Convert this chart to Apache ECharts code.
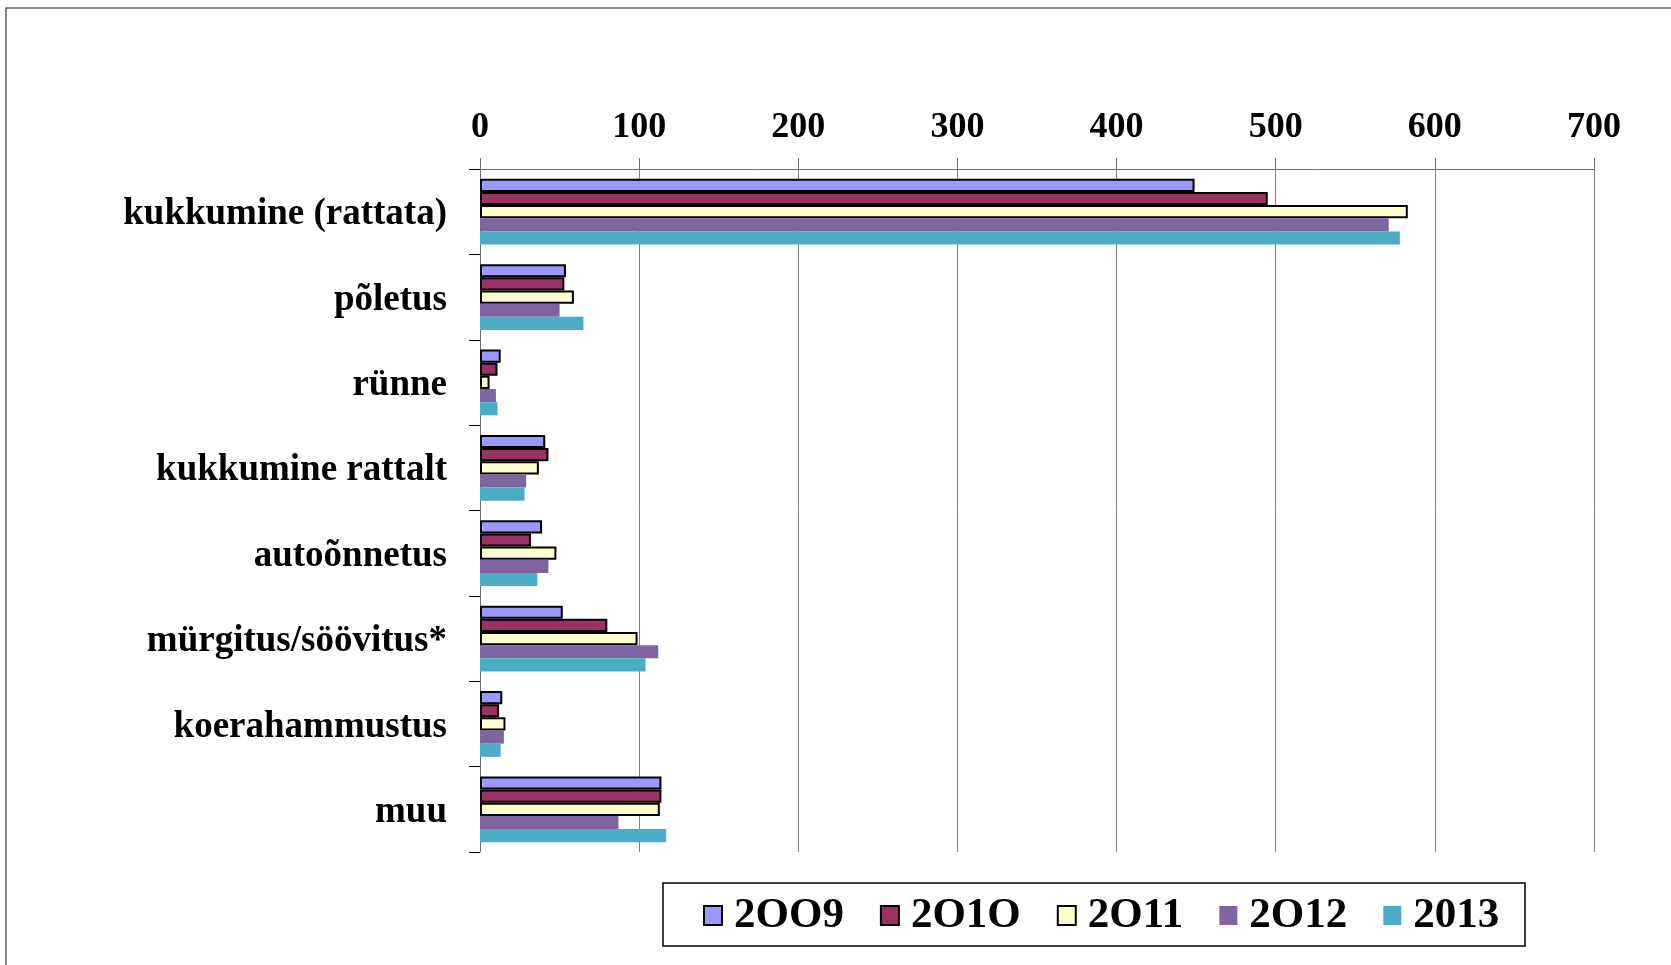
<!DOCTYPE html>
<html>
<head>
<meta charset="utf-8">
<script src="https://cdn.jsdelivr.net/npm/echarts@6/dist/echarts.min.js"></script>
<style>
  html, body { margin: 0; padding: 0; background: #ffffff; }
  #chart { width: 1671px; height: 965px; }
</style>
</head>
<body>
<div id="chart"></div>
<script>
// Injury causes, counts per year
const categories = [
  'kukkumine (rattata)',
  'põletus',
  'rünne',
  'kukkumine rattalt',
  'autoõnnetus',
  'mürgitus/söövitus*',
  'koerahammustus',
  'muu'
];
const years = ['2OO9', '2O1O', '2O11', '2O12', '2013'];
const values2009 = [449, 54, 13, 41, 39, 52, 14, 114];
const values2010 = [495, 53, 11, 43, 32, 80, 12, 114];
const values2011 = [583, 59, 6, 37, 48, 99, 16, 113];
const values2012 = [571, 50, 10, 29, 43, 112, 15, 87];
const values2013 = [578, 65, 11, 28, 36, 104, 13, 117];
const xTicks = [0, 100, 200, 300, 400, 500, 600, 700];

const seriesValues = [values2009, values2010, values2011, values2012, values2013];
const colors = ['#9999FF', '#993366', '#FFFFCC', '#8064A2', '#4BACC6'];
const bordered = [true, true, true, false, false];

const FONT = '"Liberation Serif", "Times New Roman", serif';

const chart = echarts.init(document.getElementById('chart'), null, { renderer: 'canvas' });

const series = years.map((name, i) => ({
  name: name,
  type: 'bar',
  data: seriesValues[i],
  barGap: '0%',
  barCategoryGap: '23%',
  itemStyle: {
    color: colors[i],
    borderColor: bordered[i] ? '#000000' : colors[i],
    borderWidth: bordered[i] ? 2 : 0
  },
  emphasis: { disabled: true },
  animation: false
}));

chart.setOption({
  backgroundColor: '#ffffff',
  animation: false,
  grid: { left: 480, right: 77, top: 169, bottom: 113, containLabel: false },
  xAxis: {
    type: 'value',
    position: 'top',
    min: xTicks[0],
    max: xTicks[xTicks.length - 1],
    interval: xTicks[1] - xTicks[0],
    axisLine: { show: true, lineStyle: { color: '#707070', width: 1 } },
    axisTick: { show: true, length: 11, lineStyle: { color: '#707070', width: 1 } },
    splitLine: { show: true, lineStyle: { color: '#808080', width: 1 } },
    axisLabel: {
      margin: 23,
      color: '#000000',
      fontFamily: FONT,
      fontWeight: 'bold',
      fontSize: 36
    }
  },
  yAxis: {
    type: 'category',
    data: categories,
    inverse: true,
    axisLine: { show: true, lineStyle: { color: '#707070', width: 1 } },
    axisTick: { show: true, length: 11, alignWithLabel: false, lineStyle: { color: '#000000', width: 1 } },
    splitLine: { show: false },
    axisLabel: {
      margin: 33,
      color: '#000000',
      fontFamily: FONT,
      fontWeight: 'bold',
      fontSize: 37,
      verticalAlign: 'top',
      lineHeight: 6
    }
  },
  legend: {
    data: years,
    orient: 'horizontal',
    left: 703,
    top: 894,
    padding: 0,
    itemGap: 36,
    itemWidth: 18,
    itemHeight: 19,
    icon: 'rect',
    selectedMode: false,
    textStyle: {
      color: '#000000',
      fontFamily: FONT,
      fontWeight: 'bold',
      fontSize: 43,
      lineHeight: 43,
      padding: [0, 0, 0, 7]
    }
  },
  graphic: [
    {
      // outer frame
      type: 'rect',
      silent: true,
      shape: { x: 6, y: 8, width: 2000, height: 2000 },
      style: { fill: 'none', stroke: '#606060', lineWidth: 1.5 }
    },
    {
      // legend box
      type: 'rect',
      silent: true,
      shape: { x: 663, y: 883, width: 862, height: 63 },
      style: { fill: 'none', stroke: '#000000', lineWidth: 1.5 }
    }
  ],
  series: series
});
</script>
</body>
</html>
